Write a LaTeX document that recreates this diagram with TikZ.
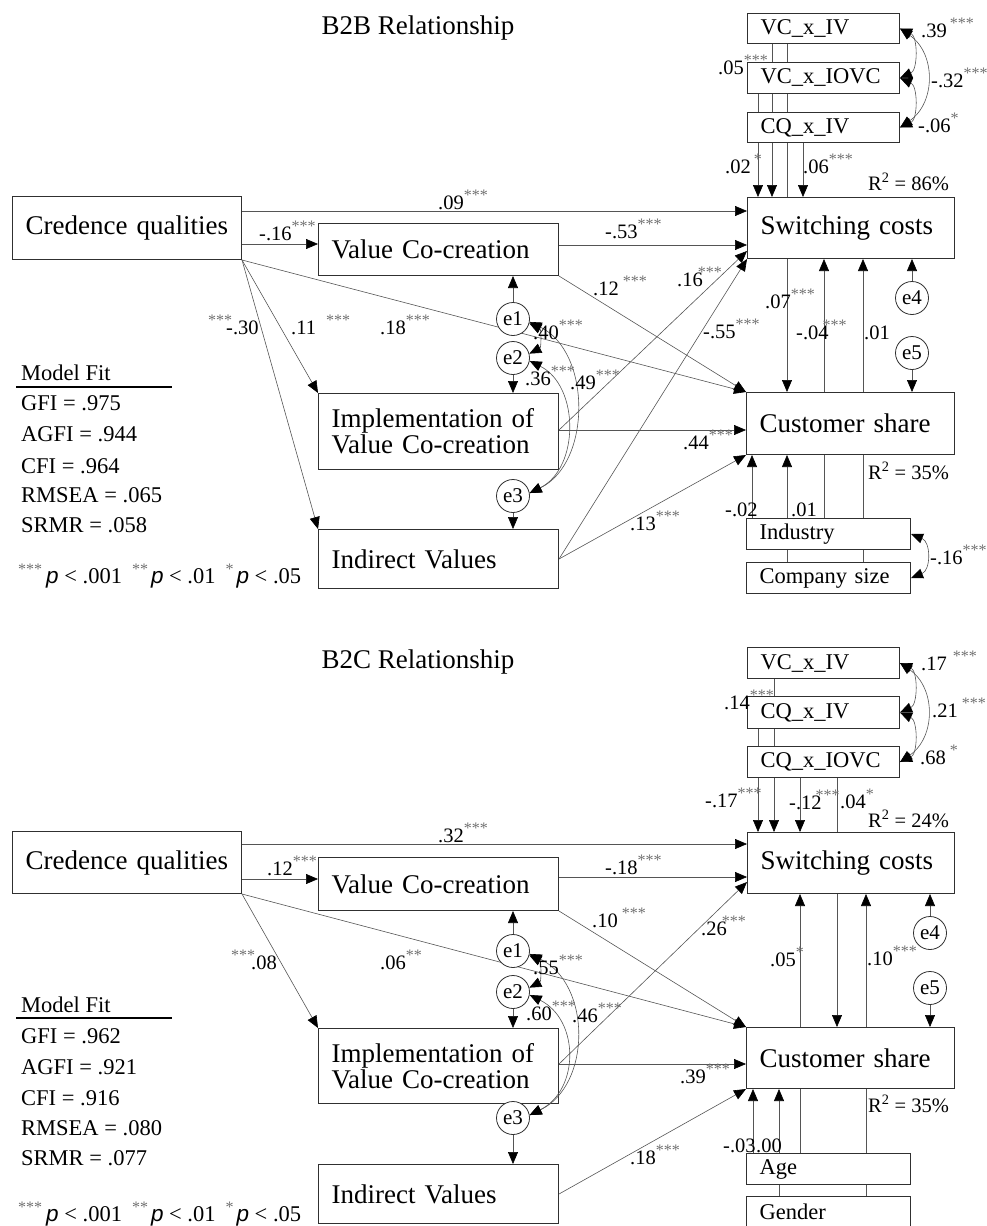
\documentclass[tikz,border=0pt]{standalone}
\usepackage{fontspec}
\setmainfont{Liberation Serif}
\newfontfamily\sansp{Liberation Sans}
\usetikzlibrary{arrows.meta,calc}
\definecolor{linec}{HTML}{555555}
\definecolor{boxc}{HTML}{303030}
\definecolor{starc}{HTML}{707070}
\newcommand\st[1]{\raisebox{9pt}{\fontsize{16}{16}\selectfont\color{starc}#1}}
\newcommand\pp{{\sansp\itshape p}}
\pgfdeclarelayer{bg}
\pgfsetlayers{bg,main}
\tikzset{
 conn/.style={draw=linec, line width=0.6pt},
 arr/.style={conn, -{Triangle[length=12pt,width=10pt,color=black]}},
 cov/.style={conn, {Triangle[length=12pt,width=10pt,color=black]}-{Triangle[length=12pt,width=10pt,color=black]}},
 bigbox/.style={draw=boxc, line width=1.2pt, fill=white, anchor=north west, inner xsep=13pt, inner ysep=0pt, align=left, font=\fontsize{27}{26}\selectfont},
 smallbox/.style={bigbox, font=\fontsize{22.5}{22.5}\selectfont},
 err/.style={draw=boxc, line width=0.8pt, fill=white, circle, minimum size=33pt, inner sep=0pt, font=\fontsize{21}{21}\selectfont},
 lab/.style={inner sep=0pt, anchor=base west, font=\fontsize{20.5}{20.5}\selectfont},
 fitt/.style={inner sep=0pt, anchor=base west, font=\fontsize{22.5}{22.5}\selectfont},
 ttl/.style={inner sep=0pt, font=\fontsize{27}{27}\selectfont},
}
\begin{document}
\begin{tikzpicture}[x=1pt,y=-1pt]
\useasboundingbox (0,0) rectangle (986,1226);
\clip (0,0) rectangle (986,1226);

% ================= TOP PANEL (B2B) =================
\node[ttl] (T1) at (418,28) {B2B Relationship};

\node[bigbox, text width=202.8pt, minimum height=62.8pt] (CQa) at (12,196) {Credence qualities};
\node[bigbox, text width=213.8pt, minimum height=51.8pt] (VCa) at (318,223) {Value Co-creation};
\node[bigbox, text width=213.8pt, minimum height=75.8pt] (IMa) at (318,393) {Implementation of\\Value Co-creation};
\node[bigbox, text width=213.8pt, minimum height=58.8pt] (IVa) at (318,529) {Indirect Values};
\node[bigbox, text width=180.8pt, minimum height=60.8pt] (SCa) at (747,197) {Switching costs};
\node[bigbox, text width=181.8pt, minimum height=61.8pt] (CSa) at (746,392) {Customer share};
\node[smallbox, text width=125.8pt, minimum height=29.8pt] (Ia) at (747,13) {VC\_x\_IV};
\node[smallbox, text width=125.8pt, minimum height=30.8pt] (IIa) at (747,62) {VC\_x\_IOVC};
\node[smallbox, text width=125.8pt, minimum height=29.8pt] (IIIa) at (747,112) {CQ\_x\_IV};
\node[smallbox, text width=137.8pt, minimum height=30.8pt] (INDa) at (746,518) {Industry};
\node[smallbox, text width=137.8pt, minimum height=30.8pt] (CSZa) at (746,562) {Company size};
\node[err] (e1a) at (513,319) {e1};
\node[err] (e2a) at (513,358) {e2};
\node[err] (e3a) at (513,496) {e3};
\node[err] (e4a) at (912,298) {e4};
\node[err] (e5a) at (912,353) {e5};

\coordinate (tya) at (0,211);
\coordinate (tyb) at (0,244);
\coordinate (tyc) at (0,245);
\coordinate (tyd) at (0,430);
\coordinate (tye) at (0,251);
\coordinate (tx1) at (758,0);
\coordinate (tx2) at (772,0);
\coordinate (tx3) at (787,0);
\coordinate (tx4) at (803,0);
\coordinate (tx5) at (752,0);
\coordinate (tx6) at (824,0);
\coordinate (tx7) at (863,0);

\begin{pgfonlayer}{bg}
\draw[arr] (CQa.east |- tya) -- (SCa.west |- tya);
\draw[arr] (CQa.east |- tyb) -- (VCa.west |- tyb);
\draw[arr] (VCa.east |- tyc) -- (SCa.west |- tyc);
\draw[arr] (CQa.south east) -- (CSa.north west);
\draw[arr] (VCa.south east) -- (CSa.north west);
\draw[arr] (CQa.south east) -- (IMa.north west);
\draw[arr] (CQa.south east) -- (IVa.north west);
\draw[arr] (IMa.east |- tyd) -- (CSa.west |- tyd);
\draw[arr] (IMa.east |- tyd) -- (SCa.west |- tye);
\draw[arr] (IVa.east) -- (SCa.south west);
\draw[arr] (IVa.east) -- (CSa.south west);
\draw[arr] (e1a) -- (e1a |- VCa.south);
\draw[arr] (e2a) -- (e2a |- IMa.north);
\draw[arr] (e3a) -- (e3a |- IVa.north);
\draw[arr] (e4a) -- (e4a |- SCa.south);
\draw[arr] (e5a) -- (e5a |- CSa.north);
\draw[arr] (tx2 |- Ia.south) -- (tx2 |- SCa.north);
\draw[arr] (tx1 |- IIa.south) -- (tx1 |- SCa.north);
\draw[arr] (tx4 |- IIIa.south) -- (tx4 |- SCa.north);
\draw[arr] (tx3 |- Ia.south) -- (tx3 |- CSa.north);
\draw[arr] (tx5 |- INDa.north) -- (tx5 |- CSa.south);
\draw[arr] (tx3 |- CSZa.north) -- (tx3 |- CSa.south);
\draw[arr] (tx6 |- INDa.north) -- (tx6 |- SCa.south);
\draw[arr] (tx7 |- CSZa.north) -- (tx7 |- SCa.south);
\end{pgfonlayer}
\draw[cov] (e1a.-15) .. controls +(12,6) and +(12,-6) .. (e2a.15);
\draw[cov] (e1a.-10) .. controls +(62,30) and +(62,-30) .. (e3a.10);
\draw[cov] (e2a.-10) .. controls +(50,25) and +(50,-25) .. (e3a.10);
\draw[cov] (Ia.east) .. controls +(18,8) and +(18,-8) .. (IIa.east);
\draw[cov] (IIa.east) .. controls +(18,8) and +(18,-8) .. (IIIa.east);
\draw[cov] (Ia.east) .. controls +(36,25) and +(36,-25) .. (IIIa.east);
\draw[cov] (INDa.east) .. controls +(20,8) and +(20,-8) .. (CSZa.east);

\node[lab] (t1) at (438,209) {.09\st{***}};
\node[lab] (t2) at (259,240) {-.16\st{***}};
\node[lab] (t3) at (605,238) {-.53\st{***}};
\node[lab] (t4) at (593,295) {.12\hspace{4pt}\st{***}};
\node[lab] (t5) at (677,286) {.16\hspace{-5pt}\st{***}};
\node[lab] (t6) at (703,338) {-.55\st{***}};
\node[lab] (t7) at (208,334) {\st{***}\hspace{-6pt}-.30};
\node[lab] (t8) at (291,334) {.11\hspace{10pt}\st{***}};
\node[lab] (t9) at (380,334) {.18\st{***}};
\node[lab] (t10) at (533,339) {.40\st{***}};
\node[lab] (t11) at (525,385) {.36\st{***}};
\node[lab] (t12) at (570,389) {.49\st{***}};
\node[lab] (t13) at (765,308) {.07\st{***}};
\node[lab] (t14) at (796,339) {-.04\hspace{-6pt}\st{***}};
\node[lab] (t15) at (864,339) {.01};
\node[lab] (t16) at (683,449) {.44\st{***}};
\node[lab] (t17) at (630,530) {.13\st{***}};
\node[lab] (t18) at (725,516) {-.02};
\node[lab] (t19) at (791,516) {.01};
\node[lab] (t20) at (930,564) {-.16\st{***}};
\node[lab] (t21) at (921,37) {.39\hspace{3pt}\st{***}};
\node[lab] (t22) at (931,87) {-.32\st{***}};
\node[lab] (t23) at (918,132) {-.06\st{*}};
\node[lab] (t24) at (718,74) {.05\st{***}};
\node[lab] (t25) at (725,173) {.02\hspace{3pt}\st{*}};
\node[lab] (t26) at (803,173) {.06\st{***}};
\node[lab] (t27) at (868,190) {R\textsuperscript{2} = 86\%};
\node[lab] (t28) at (868,479) {R\textsuperscript{2} = 35\%};

\node[fitt] (ma1) at (21,380) {Model Fit};
\draw[line width=2.5pt] (16,387) -- (172,387);
\node[fitt] (ma2) at (21,410) {GFI = .975};
\node[fitt] (ma3) at (21,441) {AGFI = .944};
\node[fitt] (ma4) at (21,473) {CFI = .964};
\node[fitt] (ma5) at (21,502) {RMSEA = .065};
\node[fitt] (ma6) at (21,532) {SRMR = .058};
\node[fitt] (ma7) at (18,583) {\st{***}\hspace{4pt}\pp\ <\ .001\hspace{10pt}\st{**}\hspace{3pt}\pp\ <\ .01\hspace{10pt}\st{*}\hspace{3pt}\pp\ <\ .05};

% ================= BOTTOM PANEL (B2C) =================
\node[ttl] (T2) at (418,662) {B2C Relationship};

\node[bigbox, text width=202.8pt, minimum height=61.8pt] (CQb) at (12,831) {Credence qualities};
\node[bigbox, text width=213.8pt, minimum height=52.8pt] (VCb) at (318,857) {Value Co-creation};
\node[bigbox, text width=213.8pt, minimum height=74.8pt] (IMb) at (318,1028) {Implementation of\\Value Co-creation};
\node[bigbox, text width=213.8pt, minimum height=58.8pt] (IVb) at (318,1164) {Indirect Values};
\node[bigbox, text width=180.8pt, minimum height=60.8pt] (SCb) at (747,832) {Switching costs};
\node[bigbox, text width=181.8pt, minimum height=60.8pt] (CSb) at (746,1027) {Customer share};
\node[smallbox, text width=125.8pt, minimum height=30.8pt] (Ib) at (747,647) {VC\_x\_IV};
\node[smallbox, text width=125.8pt, minimum height=31.8pt] (IIb) at (747,696) {CQ\_x\_IV};
\node[smallbox, text width=125.8pt, minimum height=30.8pt] (IIIb) at (747,746) {CQ\_x\_IOVC};
\node[smallbox, text width=137.8pt, minimum height=30.8pt] (AGb) at (746,1153) {Age};
\node[smallbox, text width=137.8pt, minimum height=30.8pt] (GNb) at (746,1196) {Gender};
\node[err] (e1b) at (513,951) {e1};
\node[err] (e2b) at (513,992) {e2};
\node[err] (e3b) at (513,1118) {e3};
\node[err] (e4b) at (930,933) {e4};
\node[err] (e5b) at (930,988) {e5};

\coordinate (bya) at (0,844);
\coordinate (byb) at (0,879);
\coordinate (byc) at (0,877);
\coordinate (byd) at (0,1064);
\coordinate (bye) at (0,882);
\coordinate (bx1) at (758,0);
\coordinate (bx2) at (774,0);
\coordinate (bx3) at (800,0);
\coordinate (bx4) at (837,0);
\coordinate (bx5) at (753,0);
\coordinate (bx6) at (779,0);
\coordinate (bx7) at (866,0);

\begin{pgfonlayer}{bg}
\draw[arr] (CQb.east |- bya) -- (SCb.west |- bya);
\draw[arr] (CQb.east |- byb) -- (VCb.west |- byb);
\draw[arr] (VCb.east |- byc) -- (SCb.west |- byc);
\draw[arr] (CQb.south east) -- (CSb.north west);
\draw[arr] (VCb.south east) -- (CSb.north west);
\draw[arr] (CQb.south east) -- (IMb.north west);
\draw[arr] (IMb.east |- byd) -- (CSb.west |- byd);
\draw[arr] (IMb.east |- byd) -- (SCb.west |- bye);
\draw[arr] (IVb.east) -- (CSb.south west);
\draw[arr] (e1b) -- (e1b |- VCb.south);
\draw[arr] (e2b) -- (e2b |- IMb.north);
\draw[arr] (e3b) -- (e3b |- IVb.north);
\draw[arr] (e4b) -- (e4b |- SCb.south);
\draw[arr] (e5b) -- (e5b |- CSb.north);
\draw[arr] (bx2 |- Ib.south) -- (bx2 |- SCb.north);
\draw[arr] (bx1 |- IIb.south) -- (bx1 |- SCb.north);
\draw[arr] (bx3 |- IIIb.south) -- (bx3 |- SCb.north);
\draw[arr] (bx4 |- IIIb.south) -- (bx4 |- CSb.north);
\draw[arr] (bx5 |- AGb.north) -- (bx5 |- CSb.south);
\draw[arr] (bx6 |- GNb.north) -- (bx6 |- CSb.south);
\draw[arr] (bx3 |- AGb.north) -- (bx3 |- SCb.south);
\draw[arr] (bx7 |- GNb.north) -- (bx7 |- SCb.south);
\end{pgfonlayer}
\draw[cov] (e1b.-15) .. controls +(12,6) and +(12,-6) .. (e2b.15);
\draw[cov] (e1b.-10) .. controls +(62,30) and +(62,-30) .. (e3b.10);
\draw[cov] (e2b.-10) .. controls +(50,25) and +(50,-25) .. (e3b.10);
\draw[cov] (Ib.east) .. controls +(18,8) and +(18,-8) .. (IIb.east);
\draw[cov] (IIb.east) .. controls +(18,8) and +(18,-8) .. (IIIb.east);
\draw[cov] (Ib.east) .. controls +(36,25) and +(36,-25) .. (IIIb.east);

\node[lab] (b1) at (438,842) {.32\st{***}};
\node[lab] (b2) at (267,875) {.12\st{***}};
\node[lab] (b3) at (605,874) {-.18\st{***}};
\node[lab] (b4) at (592,927) {.10\hspace{4pt}\st{***}};
\node[lab] (b5) at (701,935) {.26\hspace{-5pt}\st{***}};
\node[lab] (b6) at (231,969) {\st{***}\hspace{-4pt}.08};
\node[lab] (b7) at (380,969) {.06\st{**}};
\node[lab] (b8) at (533,974) {.55\st{***}};
\node[lab] (b9) at (526,1020) {.60\st{***}};
\node[lab] (b10) at (572,1022) {.46\st{***}};
\node[lab] (b11) at (770,966) {.05\st{*}};
\node[lab] (b12) at (867,965) {.10\st{***}};
\node[lab] (b13) at (680,1083) {.39\st{***}};
\node[lab] (b14) at (630,1164) {.18\st{***}};
\node[lab] (b15) at (723,1152) {-.03};
\node[lab] (b16) at (756,1152) {.00};
\node[lab] (b17) at (921,670) {.17\hspace{6pt}\st{***}};
\node[lab] (b18) at (932,717) {.21\hspace{4pt}\st{***}};
\node[lab] (b19) at (920,764) {.68\hspace{4pt}\st{*}};
\node[lab] (b20) at (724,709) {.14\st{***}};
\node[lab] (b21) at (705,807) {-.17\st{***}};
\node[lab] (b22) at (789,809) {-.12\hspace{-6pt}\st{***}};
\node[lab] (b23) at (840,808) {.04\st{*}};
\node[lab] (b24) at (868,827) {R\textsuperscript{2} = 24\%};
\node[lab] (b25) at (868,1112) {R\textsuperscript{2} = 35\%};

\node[fitt] (mb1) at (21,1012) {Model Fit};
\draw[line width=2.5pt] (16,1018) -- (172,1018);
\node[fitt] (mb2) at (21,1043) {GFI = .962};
\node[fitt] (mb3) at (21,1074) {AGFI = .921};
\node[fitt] (mb4) at (21,1105) {CFI = .916};
\node[fitt] (mb5) at (21,1135) {RMSEA = .080};
\node[fitt] (mb6) at (21,1165) {SRMR = .077};
\node[fitt] (mb7) at (18,1221) {\st{***}\hspace{4pt}\pp\ <\ .001\hspace{10pt}\st{**}\hspace{3pt}\pp\ <\ .01\hspace{10pt}\st{*}\hspace{3pt}\pp\ <\ .05};
\end{tikzpicture}
\end{document}
